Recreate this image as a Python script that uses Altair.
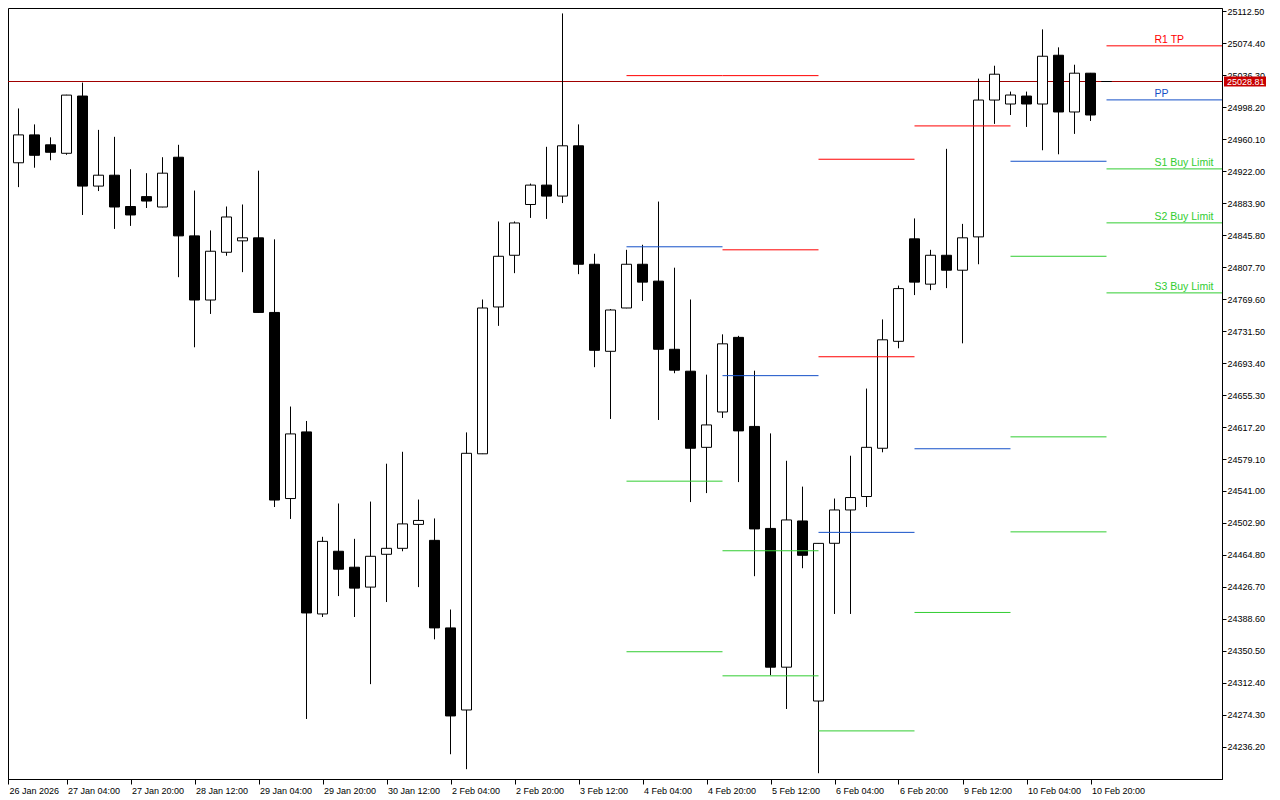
import json
import altair as alt
import pandas as pd

# ---------------- data (H4 candles) ----------------
opens = [24814.7, 24932.0, 24965.2, 24953.4, 24943.3, 25011.5, 24904.2, 24917.2, 24879.9, 24891.7,
         24879.3, 24938.6, 24844.9, 24768.5, 24825.4, 24839.0, 24842.6, 24753.7, 24532.0, 24611.4,
         24394.5, 24469.2, 24450.2, 24426.5, 24465.6, 24472.7, 24501.2, 24482.2, 24377.9, 24280.1,
         24585.3, 24760.2, 24821.8, 24882.3, 24905.4, 24892.3, 24952.2, 24811.1, 24707.4, 24759.0,
         24811.1, 24791.0, 24709.8, 24683.7, 24593.0, 24635.1, 24724.0, 24617.9, 24496.4, 24331.1,
         24505.3, 24290.8, 24478.7, 24518.4, 24534.4, 24591.9, 24719.3, 24841.4, 24787.4, 24821.8,
         24804.0, 24843.7, 25006.7, 25002.0, 25011.5, 25002.0, 25060.1, 24992.5, 25038.7, 25028.81]
highs = [24938.0, 24996.7, 24977.7, 24962.3, 25013.0, 25027.5, 24971.2, 24962.9, 24924.3, 24919.6,
         24938.6, 24953.4, 24898.9, 24851.4, 24879.9, 24882.3, 24922.6, 24840.8, 24641.6, 24624.4,
         24486.4, 24526.1, 24484.0, 24528.4, 24573.5, 24587.7, 24530.8, 24508.3, 24399.8, 24610.8,
         24769.1, 24862.1, 24862.1, 24907.2, 24951.0, 25109.9, 24977.7, 24823.6, 24757.8, 24828.3,
         24834.3, 24885.8, 24807.0, 24769.1, 24679.6, 24727.6, 24725.8, 24684.3, 24609.6, 24577.0,
         24546.2, 24479.0, 24532.0, 24583.0, 24663.0, 24745.4, 24785.7, 24865.7, 24828.3, 24948.6,
         24859.2, 25032.2, 25047.6, 25016.8, 25016.8, 25090.9, 25069.5, 25048.8, 25039.0, 25028.81]
lows = [24808.0, 24903.0, 24926.1, 24935.0, 24941.5, 24869.8, 24898.3, 24853.2, 24856.8, 24878.1,
        24879.0, 24795.7, 24712.2, 24751.9, 24821.2, 24801.7, 24753.4, 24521.9, 24507.7, 24269.4,
        24390.9, 24415.8, 24390.9, 24310.9, 24408.7, 24469.2, 24426.5, 24364.3, 24227.4, 24209.6,
        24585.0, 24737.7, 24800.5, 24866.3, 24865.1, 24884.0, 24799.3, 24688.5, 24626.8, 24758.7,
        24767.3, 24625.6, 24681.3, 24527.8, 24538.5, 24628.0, 24551.6, 24439.5, 24321.6, 24281.3,
        24449.0, 24204.8, 24394.5, 24394.5, 24521.9, 24587.1, 24711.0, 24774.4, 24780.3, 24782.7,
        24716.9, 24811.1, 24978.3, 24988.9, 24974.7, 24946.9, 24942.1, 24966.4, 24981.8, 25028.81]
closes = [24930.9, 24965.2, 24940.9, 24944.5, 25012.6, 24904.2, 24917.2, 24879.3, 24869.8, 24886.4,
          24919.6, 24844.9, 24768.5, 24826.6, 24867.4, 24842.6, 24753.7, 24530.2, 24609.0, 24395.7,
          24481.0, 24447.8, 24425.3, 24463.2, 24472.7, 24501.8, 24505.9, 24377.9, 24273.0, 24585.9,
          24759.0, 24820.6, 24860.3, 24905.4, 24892.3, 24952.2, 24811.1, 24708.6, 24756.6, 24811.1,
          24789.8, 24709.8, 24684.9, 24591.9, 24619.7, 24716.3, 24612.6, 24495.8, 24331.1, 24506.5,
          24464.4, 24478.6, 24518.4, 24533.2, 24593.0, 24721.1, 24782.1, 24789.8, 24821.8, 24804.0,
          24842.6, 25006.7, 25037.5, 25012.7, 25002.0, 25058.9, 24992.5, 25038.7, 24988.9, 25028.81]

# daily pivot segments (start bar, end bar, level, kind)
seg_start = [39, 39, 39, 39, 45, 45, 45, 45, 45, 51, 51, 51, 51, 57, 57, 57, 63, 63, 63, 63, 69, 69, 69, 69, 69]
seg_end = [45, 45, 45, 45, 51, 51, 51, 51, 51, 57, 57, 57, 57, 63, 63, 63, 69, 69, 69, 69, 80, 80, 80, 80, 80]
seg_level = [25035.8, 24831.9, 24552.7, 24349.5,
             25035.8, 24828.3, 24678.4, 24469.8, 24320.8,
             24936.2, 24700.9, 24491.7, 24255.2,
             24975.9, 24591.3, 24396.3,
             24933.8, 24820.6, 24605.5, 24492.3,
             25071.3, 25006.9, 24924.7, 24860.4, 24777.0]
seg_kind = ["R", "P", "S", "S",
            "R", "R", "P", "S", "S",
            "R", "R", "P", "S",
            "R", "P", "S",
            "P", "S", "S", "S",
            "R", "P", "S", "S", "S"]

level_names = ["R1 TP", "PP", "S1 Buy Limit", "S2 Buy Limit", "S3 Buy Limit"]
level_values = [25071.3, 25006.9, 24924.7, 24860.4, 24777.0]
level_kinds = ["R", "P", "S", "S", "S"]

current_price = 25028.81

x_tick_labels = ["26 Jan 2026", "27 Jan 04:00", "27 Jan 20:00", "28 Jan 12:00", "29 Jan 04:00",
                 "29 Jan 20:00", "30 Jan 12:00", "2 Feb 04:00", "2 Feb 20:00", "3 Feb 12:00",
                 "4 Feb 04:00", "4 Feb 20:00", "5 Feb 12:00", "6 Feb 04:00", "6 Feb 20:00",
                 "9 Feb 12:00", "10 Feb 04:00", "10 Feb 20:00"]
y_tick_values = [24236.2, 24274.3, 24312.4, 24350.5, 24388.6, 24426.7, 24464.8, 24502.9,
                 24541.0, 24579.1, 24617.2, 24655.3, 24693.4, 24731.5, 24769.6, 24807.7,
                 24845.8, 24883.9, 24922.0, 24960.1, 24998.2, 25036.3, 25074.4, 25112.5]

# ---------------- styling ----------------
KIND_COLOR = {"R": "#FF0000", "P": "#1450C8", "S": "#32CD32"}
FONT = "Liberation Sans"
W, H = 1214, 771
X_MIN, X_MAX = 0.34375, 76.21875
Y_MIN, Y_MAX = 24197.90, 25116.37

candles = pd.DataFrame({
    "bar": list(range(len(opens))),
    "open": opens, "high": highs, "low": lows, "close": closes,
})
candles["body_lo"] = candles[["open", "close"]].min(axis=1)
candles["body_hi"] = candles[["open", "close"]].max(axis=1)
candles["fill"] = ["#FFFFFF" if c > o else "#000000" for o, c in zip(opens, closes)]

segs = pd.DataFrame({"x0": seg_start, "x1": seg_end, "level": seg_level,
                     "color": [KIND_COLOR[k] for k in seg_kind]})
labels = pd.DataFrame({"name": level_names, "level": level_values,
                       "color": [KIND_COLOR[k] for k in level_kinds]})
price = pd.DataFrame({"price": [current_price], "txt": [f"{current_price:.2f}"]})

xs = alt.Scale(domain=[X_MIN, X_MAX], nice=False, zero=False, padding=0)
ys = alt.Scale(domain=[Y_MIN, Y_MAX], nice=False, zero=False, padding=0)

x_values = [X_MIN] + [4 * i for i in range(1, len(x_tick_labels))]
label_expr = json.dumps(x_tick_labels) + "[round(datum.value / 4)]"

xaxis = alt.Axis(values=x_values, labelExpr=label_expr, title=None, grid=False,
                 tickSize=5, tickColor="black", domainColor="black", domainWidth=1,
                 labelFont=FONT, labelFontSize=9, labelColor="black", labelAlign="left",
                 labelBaseline="top", labelPadding=2, labelOffset=1, labelFlush=False,
                 labelOverlap=False, labelBound=False)
yaxis = alt.Axis(values=y_tick_values, format=".2f", orient="right", title=None, grid=False,
                 tickSize=4, tickColor="black", domainColor="black", domainWidth=1,
                 labelFont=FONT, labelFontSize=9, labelColor="black", labelPadding=1,
                 labelFlush=False, labelOverlap=False)


def X(field):
    return alt.X(field, type="quantitative", scale=xs, axis=xaxis)


def Y(field):
    return alt.Y(field, type="quantitative", scale=ys, axis=yaxis)


price_line = alt.Chart(price).mark_rule(color="#A00000", strokeWidth=1).encode(y=Y("price"))

wicks = alt.Chart(candles).mark_rule(color="black", strokeWidth=1, clip=True).encode(
    x=X("bar"), y=Y("low"), y2="high")

bodies = alt.Chart(candles).mark_bar(size=10, stroke="black", strokeWidth=1, clip=True).encode(
    x=X("bar"), y=Y("body_lo"), y2="body_hi", fill=alt.Fill("fill:N", scale=None))

pivots = alt.Chart(segs).mark_rule(strokeWidth=1, clip=True).encode(
    x=X("x0"), x2="x1", y=Y("level"), color=alt.Color("color:N", scale=None))

pivot_text = alt.Chart(labels).mark_text(align="left", baseline="alphabetic", dy=-3,
                                          font=FONT, fontSize=10.5).encode(
    x=alt.datum(72), y=Y("level"), text="name:N", color=alt.Color("color:N", scale=None))

price_box = alt.Chart(price).mark_rect(color="#C80000", yOffset=-5, y2Offset=5).encode(
    x=alt.value(W + 2), x2=alt.value(W + 44), y=Y("price"), y2="price")

price_txt = alt.Chart(price).mark_text(align="left", baseline="middle", color="white",
                                       font=FONT, fontSize=9).encode(
    x=alt.value(W + 5), y=Y("price"), text="txt:N")

chart = alt.layer(price_line, wicks, bodies, pivots, pivot_text, price_box, price_txt).properties(
    width=W, height=H,
    autosize=alt.AutoSizeParams(type="none"),
    padding={"left": 0, "top": 0, "right": 50, "bottom": 20},
    background="white",
).configure_view(stroke="black", strokeWidth=1)

chart.save("out.html", embed_options={"renderer": "svg", "actions": False})
